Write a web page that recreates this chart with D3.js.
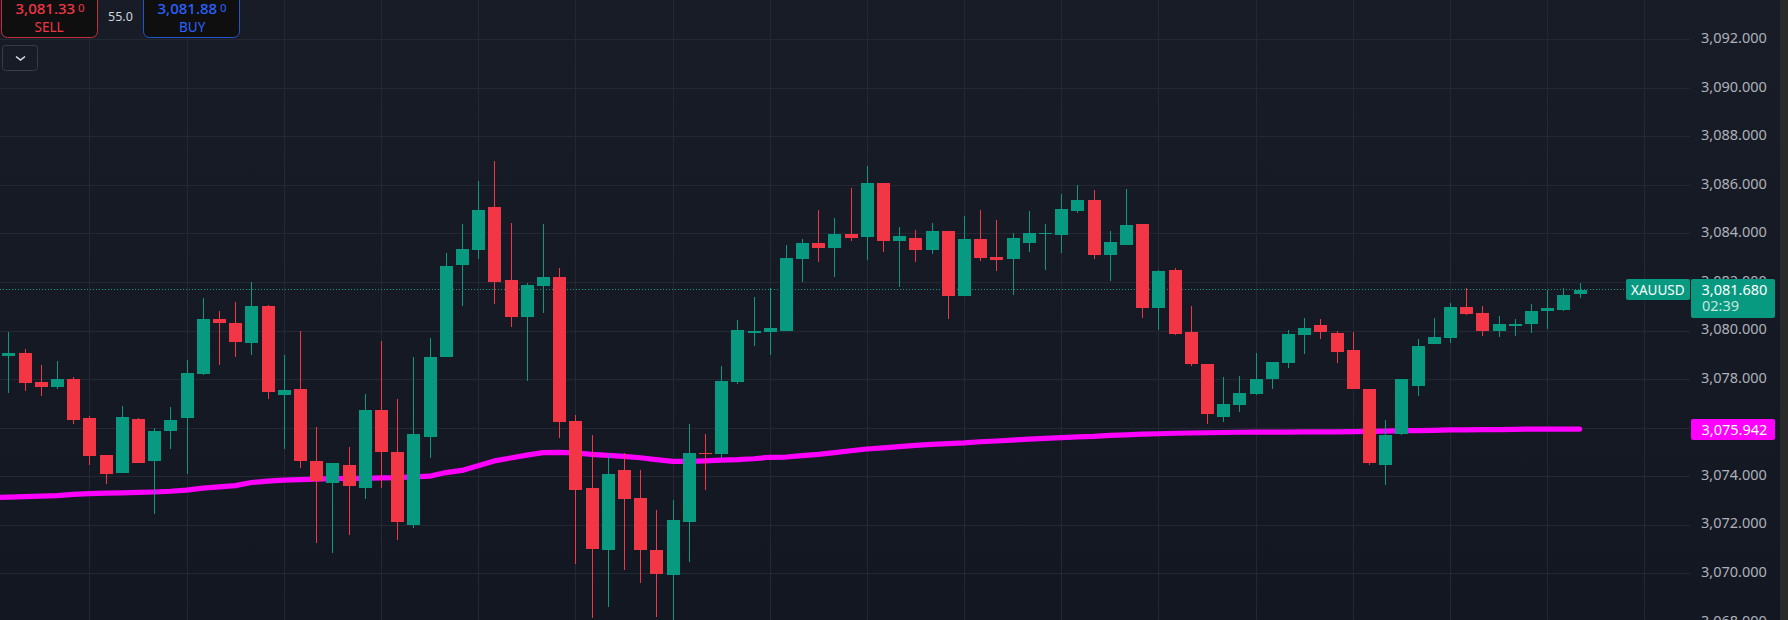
<!DOCTYPE html>
<html>
<head>
<meta charset="utf-8">
<script src="https://d3js.org/d3.v7.min.js"></script>
<style>
  html, body { margin: 0; padding: 0; background: #131722; overflow: hidden; }
  svg { display: block; font-family: "Noto Sans", sans-serif; }
</style>
</head>
<body>
<div id="chart"></div>
<script>
// xauusd candles
const open = [
  3078.95,3079.08,3077.88,3077.68,3078.00,3076.40,3074.87,3074.13,3076.36,3074.63,
  3075.86,3076.40,3078.21,3080.48,3080.31,3079.49,3081.01,3077.35,3077.59,3074.63,
  3073.72,3074.46,3073.51,3076.73,3075.00,3071.99,3075.62,3078.91,3082.70,3083.32,
  3085.09,3082.08,3080.56,3081.84,3082.21,3076.27,3073.51,3070.96,3074.26,3073.10,
  3070.96,3069.93,3072.11,3074.96,3074.91,3077.88,3079.90,3079.94,3079.98,3082.95,
  3083.61,3083.40,3083.98,3083.85,3086.08,3083.69,3083.81,3083.32,3084.10,3081.42,
  3083.77,3083.03,3082.95,3083.61,3083.98,3083.94,3084.93,3085.38,3083.12,3083.53,
  3084.39,3080.93,3082.50,3079.94,3078.62,3076.44,3076.93,3077.39,3078.00,3078.66,
  3079.82,3080.23,3079.90,3079.20,3077.59,3074.46,3075.74,3077.72,3079.45,3079.69,
  3080.97,3080.72,3079.98,3080.19,3080.27,3080.81,3080.85,3081.51];
const high = [
  3079.94,3079.24,3078.58,3078.75,3078.09,3076.48,3074.87,3076.89,3076.40,3075.99,
  3076.85,3078.79,3081.34,3080.81,3081.18,3082.00,3081.05,3078.99,3079.98,3076.03,
  3074.54,3075.20,3077.39,3079.57,3077.18,3078.91,3079.69,3083.20,3084.39,3086.16,
  3086.99,3084.43,3081.96,3084.39,3082.58,3076.52,3075.70,3074.91,3074.96,3074.26,
  3072.61,3073.02,3076.15,3075.74,3078.54,3080.44,3081.38,3081.75,3083.53,3083.77,
  3084.97,3084.64,3085.87,3086.78,3086.08,3084.27,3084.15,3084.43,3084.10,3084.72,
  3084.97,3084.56,3084.02,3084.93,3084.39,3085.63,3086.00,3085.79,3084.10,3085.83,
  3084.39,3082.50,3082.58,3081.01,3078.62,3078.09,3078.13,3079.08,3078.70,3080.02,
  3080.52,3080.48,3079.98,3079.94,3077.59,3076.32,3078.00,3079.65,3080.52,3081.14,
  3081.75,3081.01,3080.60,3080.48,3081.10,3081.67,3081.75,3081.96];
const low = [
  3077.43,3077.51,3077.30,3077.59,3076.15,3074.46,3073.68,3074.13,3074.54,3072.44,
  3075.12,3074.09,3078.17,3078.58,3078.91,3078.99,3077.18,3075.12,3074.34,3071.25,
  3070.84,3071.58,3073.06,3073.51,3071.37,3071.86,3074.75,3078.91,3081.01,3082.95,
  3081.10,3080.15,3077.92,3080.72,3075.57,3070.38,3068.16,3068.61,3070.13,3069.60,
  3068.20,3067.87,3070.47,3073.43,3074.75,3077.80,3079.36,3078.99,3079.98,3082.00,
  3082.83,3082.21,3083.69,3082.91,3083.24,3081.80,3082.83,3083.16,3080.48,3081.42,
  3082.87,3082.45,3081.47,3083.24,3082.50,3083.20,3084.84,3082.95,3082.04,3083.53,
  3080.52,3080.02,3079.82,3078.54,3076.15,3076.23,3076.65,3077.35,3077.59,3078.46,
  3079.04,3079.65,3078.66,3077.59,3074.46,3073.64,3075.70,3077.30,3079.45,3079.49,
  3080.64,3079.77,3079.73,3079.77,3079.90,3080.06,3080.81,3081.34];
const close = [
  3079.08,3077.84,3077.68,3078.00,3076.32,3074.83,3074.09,3076.44,3074.54,3075.86,
  3076.32,3078.25,3080.48,3080.31,3079.53,3081.01,3077.47,3077.55,3074.63,3073.80,
  3074.54,3073.60,3076.73,3075.00,3072.11,3075.74,3078.91,3082.66,3083.36,3084.97,
  3082.00,3080.56,3081.88,3082.21,3076.23,3073.43,3071.00,3074.09,3073.06,3070.96,
  3069.97,3072.20,3074.96,3074.91,3077.92,3080.02,3079.98,3080.11,3082.99,3083.61,
  3083.40,3083.98,3083.81,3086.08,3083.69,3083.90,3083.32,3084.10,3081.42,3083.77,
  3082.99,3082.91,3083.81,3084.02,3084.02,3085.01,3085.38,3083.12,3083.65,3084.35,
  3080.93,3082.45,3079.86,3078.62,3076.56,3076.98,3077.43,3078.00,3078.70,3079.86,
  3080.11,3079.94,3079.12,3077.59,3074.54,3075.70,3078.00,3079.36,3079.73,3080.97,
  3080.68,3079.98,3080.27,3080.27,3080.81,3080.93,3081.47,3081.68];
// moving average, first value belongs to the candle just left of the window
const ma = [3073.11,
  3073.14,3073.16,3073.18,3073.20,3073.25,3073.28,3073.30,3073.31,3073.33,3073.35,
  3073.38,3073.43,3073.51,3073.56,3073.61,3073.74,3073.80,3073.84,3073.86,3073.88,
  3073.90,3073.91,3073.91,3073.93,3073.94,3073.97,3074.00,3074.15,3074.24,3074.43,
  3074.63,3074.75,3074.87,3074.97,3074.98,3074.96,3074.90,3074.86,3074.82,3074.76,
  3074.68,3074.61,3074.61,3074.63,3074.66,3074.68,3074.72,3074.78,3074.79,3074.85,
  3074.90,3074.97,3075.05,3075.12,3075.17,3075.22,3075.27,3075.31,3075.34,3075.37,
  3075.42,3075.45,3075.49,3075.53,3075.56,3075.59,3075.62,3075.64,3075.68,3075.70,
  3075.73,3075.75,3075.77,3075.78,3075.79,3075.80,3075.81,3075.82,3075.82,3075.82,
  3075.83,3075.83,3075.83,3075.84,3075.85,3075.86,3075.88,3075.88,3075.89,3075.91,
  3075.91,3075.92,3075.92,3075.93,3075.94,3075.94,3075.94,3075.942];

const priceTicks = d3.range(3068, 3093, 2);
const gridCandles = d3.range(5, 102, 6);
const lastPrice = 3081.68;
const lastMa = 3075.942;
const symbol = "XAUUSD";
const countdown = "02:39";
const spread = "55.0";
const sellPrice = ["3,081.33", "0"];
const buyPrice = ["3,081.88", "0"];

const W = 1788, H = 620;
const GREEN = "#089981", RED = "#f23645", MAGENTA = "#ff00ff";
const GRID = "#242833";
const PLOT_R = 1690;

const svg = d3.select("#chart").append("svg").attr("width", W).attr("height", H);

// background gets a little lighter to the top
const grad = svg.append("defs").append("linearGradient")
  .attr("id", "bg").attr("x1", 0).attr("x2", 0).attr("y1", 0).attr("y2", 1);
grad.append("stop").attr("offset", "0%").attr("stop-color", "#181c27");
grad.append("stop").attr("offset", "100%").attr("stop-color", "#131722");
svg.append("rect").attr("width", W).attr("height", H).attr("fill", "url(#bg)");
svg.append("rect").attr("x", 1780).attr("width", 8).attr("height", H).attr("fill", "#2a2a2b");

const x = d3.scaleLinear().domain([0, 97]).range([8.4, 1579.6]);
const y = d3.scaleLinear().domain([3092, 3070]).range([39.3, 573.3]);
const cx = i => Math.round(x(i)) + 0.5;

// grid
const gy = svg.append("g").attr("transform", "translate(0,0.5)")
  .call(d3.axisRight(y).tickValues(priceTicks).tickSize(PLOT_R).tickFormat(""));
gy.select(".domain").remove();
gy.selectAll("line").attr("stroke", GRID).attr("y1", 0).attr("y2", 0)
  .attr("transform", d => "translate(0," + (Math.round(y(d)) - 0.5 - y(d)) + ")");

const gx = svg.append("g").attr("class", "xgrid")
  .call(d3.axisBottom(x).tickValues(gridCandles).tickSize(H).tickFormat(""));
gx.select(".domain").remove();
gx.selectAll(".tick").attr("transform", d => "translate(" + cx(d) + ",0)");
gx.selectAll("line").attr("stroke", GRID);

// last price line
svg.append("line")
  .attr("x1", 0).attr("x2", 1626)
  .attr("y1", Math.round(y(lastPrice)) - 0.5).attr("y2", Math.round(y(lastPrice)) - 0.5)
  .attr("stroke", GREEN).attr("stroke-dasharray", "1 2");

// moving average is under the candles
const maLine = d3.line().x((d, i) => x(i - 1)).y(d => y(d));
svg.append("path").datum(ma)
  .attr("d", maLine)
  .attr("fill", "none")
  .attr("stroke", MAGENTA)
  .attr("stroke-width", 5.2)
  .attr("stroke-linecap", "round")
  .attr("stroke-linejoin", "round");

const colour = i => close[i] >= open[i] ? GREEN : RED;

const candles = svg.append("g").selectAll("g").data(open).enter().append("g");
candles.append("rect")
  .attr("x", (d, i) => cx(i) - 0.5)
  .attr("width", 1)
  .attr("y", (d, i) => Math.round(y(high[i])))
  .attr("height", (d, i) => Math.round(y(low[i])) - Math.round(y(high[i])))
  .attr("fill", (d, i) => colour(i));
candles.append("rect")
  .attr("x", (d, i) => cx(i) - 6.5)
  .attr("width", 13)
  .attr("y", (d, i) => Math.round(y(Math.max(open[i], close[i]))))
  .attr("height", (d, i) => Math.max(1, Math.round(y(Math.min(open[i], close[i]))) - Math.round(y(Math.max(open[i], close[i])))))
  .attr("fill", (d, i) => colour(i));

// price axis on the right
const ay = svg.append("g").attr("transform", "translate(" + PLOT_R + ",0)")
  .call(d3.axisRight(y).tickValues(priceTicks).tickSize(0).tickPadding(11)
    .tickFormat(d3.format(",.3f")));
ay.select(".domain").remove();
ay.selectAll("text").attr("fill", "#aeb1ba").attr("font-size", 14.5)
  .attr("font-family", "\"Noto Sans\", sans-serif").attr("dy", "0.22em");

// labels on the axis
function tag(x0, y0, w, h, fill) {
  svg.append("rect").attr("x", x0).attr("y", y0).attr("width", w).attr("height", h)
    .attr("rx", 2).attr("fill", fill);
}
function label(str, tx, ty, size, fill, weight, anchor) {
  return svg.append("text").attr("x", tx).attr("y", ty).attr("font-size", size)
    .attr("fill", fill).attr("font-weight", weight || 400)
    .attr("text-anchor", anchor || "start").text(str);
}
const fmt = d3.format(",.3f");
tag(1626, 279, 64, 21, GREEN);
label(symbol, 1631, 295, 13.5, "#ffffff");
tag(1691, 279, 84, 39, GREEN);
label(fmt(lastPrice), 1701.5, 295, 14.5, "#ffffff");
label(countdown, 1702, 311, 14.5, "#c4e6de");
tag(1691, 419, 84, 21, MAGENTA);
label(fmt(lastMa), 1701.5, 435, 14.5, "#ffffff");

// trade buttons, cut off by the top of the window
function button(x0, stroke, fill, price, name, nameX) {
  svg.append("rect").attr("x", x0).attr("y", -10).attr("width", 96).attr("height", 47.5)
    .attr("rx", 6).attr("fill", "#0f0f10").attr("stroke", stroke);
  label(price[0], x0 + 14, 14, 15, fill, 500);
  label(price[1], x0 + 76.5, 11.5, 11.5, fill);
  label(name, nameX, 31.5, 13.5, fill);
}
button(1.5, "#c42f3e", "#f23645", sellPrice, "SELL", 34.5);
button(143.5, "#2156c9", "#2962ff", buyPrice, "BUY", 179);
label(spread, 108, 21, 12.5, "#d1d4dc");

// collapse button
svg.append("rect").attr("x", 2.5).attr("y", 45.5).attr("width", 35).attr("height", 25)
  .attr("rx", 3).attr("fill", "none").attr("stroke", "#3a3c42");
svg.append("path").attr("d", d3.line()([[16, 56.5], [20.5, 60], [25, 56.5]]))
  .attr("fill", "none").attr("stroke", "#e0e3eb").attr("stroke-width", 1.5);
</script>
</body>
</html>
